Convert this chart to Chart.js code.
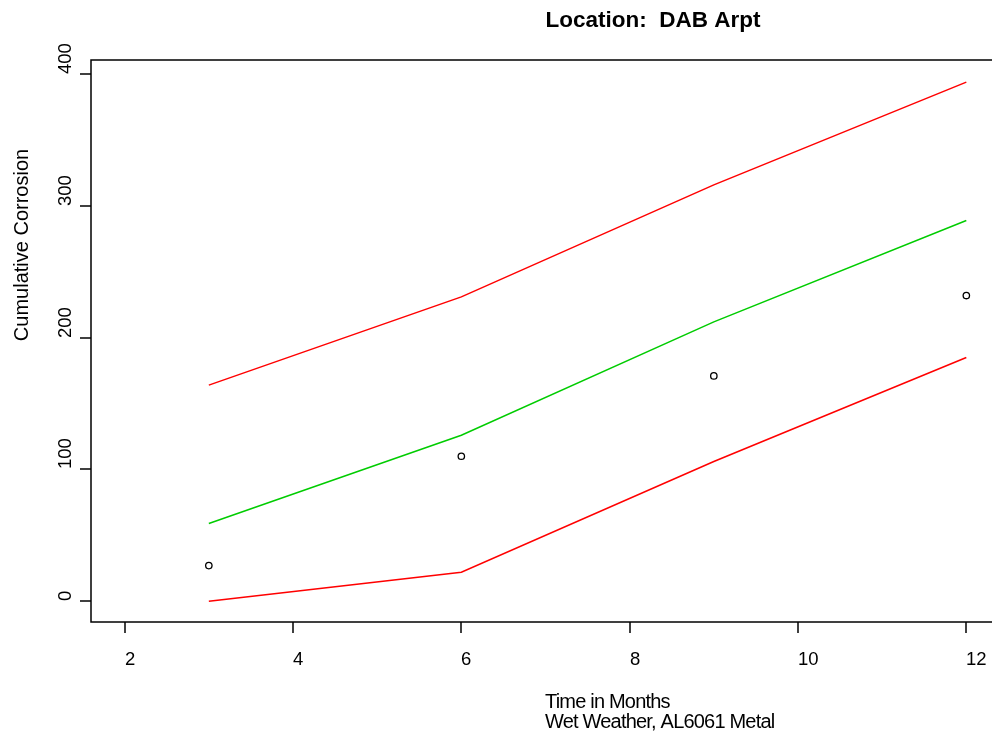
<!DOCTYPE html>
<html>
<head>
<meta charset="utf-8">
<script src="https://cdn.jsdelivr.net/npm/chart.js@4.4.1/dist/chart.umd.min.js"></script>
<style>
    html, body { margin: 0; padding: 0; background: #fff; overflow: hidden; }
    #wrap { position: absolute; left: 0; top: 0; width: 1010px; height: 735px; }
</style>
</head>
<body>
<div id="wrap"><canvas id="corrosionChart" width="1010" height="735"></canvas></div>
<script>
// Du lieu doc tu hinh
const months = [3, 6, 9, 12];
const observed = [27, 110, 171, 232];
const predicted = [59, 126, 212, 289];
const upperBound = [164, 231, 316, 394];
const lowerBound = [0, 22, 106, 185];

const xTicks = [2, 4, 6, 8, 10, 12];
const yTicks = [0, 100, 200, 300, 400];

const chartTitle = 'Location:  DAB Arpt';
const xLabelLines = ['Time in Months', 'Wet Weather, AL6061 Metal'];
const yLabel = 'Cumulative Corrosion';

function toPoints(values) {
    return months.map((m, i) => ({ x: m, y: values[i] }));
}

// Ve truc kieu R (khung, vach chia, nhan)
const rAxes = {
    id: 'rAxes',
    afterDraw(chart) {
        const ctx = chart.ctx;
        const area = chart.chartArea;
        const sx = chart.scales.x;
        const sy = chart.scales.y;
        ctx.save();
        ctx.strokeStyle = '#000';
        ctx.fillStyle = '#000';
        ctx.lineWidth = 1.5;
        ctx.strokeRect(area.left, area.top, area.right - area.left, area.bottom - area.top);

        // vach truc x
        ctx.font = '18.5px "Liberation Sans", Arial, sans-serif';
        ctx.textAlign = 'left';
        ctx.textBaseline = 'alphabetic';
        xTicks.forEach(t => {
            const px = Math.round(sx.getPixelForValue(t));
            ctx.beginPath();
            ctx.moveTo(px, area.bottom);
            ctx.lineTo(px, area.bottom + 11);
            ctx.stroke();
            ctx.fillText(String(t), px, 665);
        });

        // vach truc y, nhan xoay doc
        yTicks.forEach(t => {
            const py = Math.round(sy.getPixelForValue(t));
            ctx.beginPath();
            ctx.moveTo(area.left - 11, py);
            ctx.lineTo(area.left, py);
            ctx.stroke();
            ctx.save();
            ctx.translate(71, py);
            ctx.rotate(-Math.PI / 2);
            ctx.fillText(String(t), 0, 0);
            ctx.restore();
        });

        // tieu de
        ctx.font = 'bold 22.5px "Liberation Sans", Arial, sans-serif';
        ctx.textAlign = 'center';
        ctx.fillText(chartTitle, 653, 27);

        // nhan truc y
        ctx.font = '20px "Liberation Sans", Arial, sans-serif';
        ctx.save();
        ctx.translate(28, 245);
        ctx.rotate(-Math.PI / 2);
        ctx.textAlign = 'center';
        ctx.fillText(yLabel, 0, 0);
        ctx.restore();

        // nhan truc x
        ctx.textAlign = 'left';
        ctx.letterSpacing = '-0.8px';
        ctx.fillText(xLabelLines[0], 545, 708);
        ctx.fillText(xLabelLines[1], 545, 728);
        ctx.restore();
    }
};

const lineStyle = { pointRadius: 0, borderWidth: 1.5, tension: 0, fill: false, showLine: true };

new Chart(document.getElementById('corrosionChart'), {
    type: 'scatter',
    data: {
        datasets: [
            Object.assign({ label: 'Upper', data: toPoints(upperBound), borderColor: '#FF0000' }, lineStyle),
            Object.assign({ label: 'Predicted', data: toPoints(predicted), borderColor: '#00CC00' }, lineStyle),
            Object.assign({ label: 'Lower', data: toPoints(lowerBound), borderColor: '#FF0000' }, lineStyle),
            {
                label: 'Observed',
                data: toPoints(observed),
                showLine: false,
                pointStyle: 'circle',
                pointRadius: 3.2,
                pointBorderWidth: 1.3,
                pointBorderColor: '#000',
                pointBackgroundColor: 'rgba(0,0,0,0)'
            }
        ]
    },
    options: {
        responsive: false,
        animation: false,
        devicePixelRatio: 1,
        layout: { padding: { left: 91, top: 60, right: 10, bottom: 113 } },
        plugins: {
            legend: { display: false },
            tooltip: { enabled: false }
        },
        scales: {
            x: { type: 'linear', min: 1.6, max: 12.4, display: false },
            y: { type: 'linear', min: -15.8, max: 410.8, display: false }
        }
    },
    plugins: [rAxes]
});
</script>
</body>
</html>
